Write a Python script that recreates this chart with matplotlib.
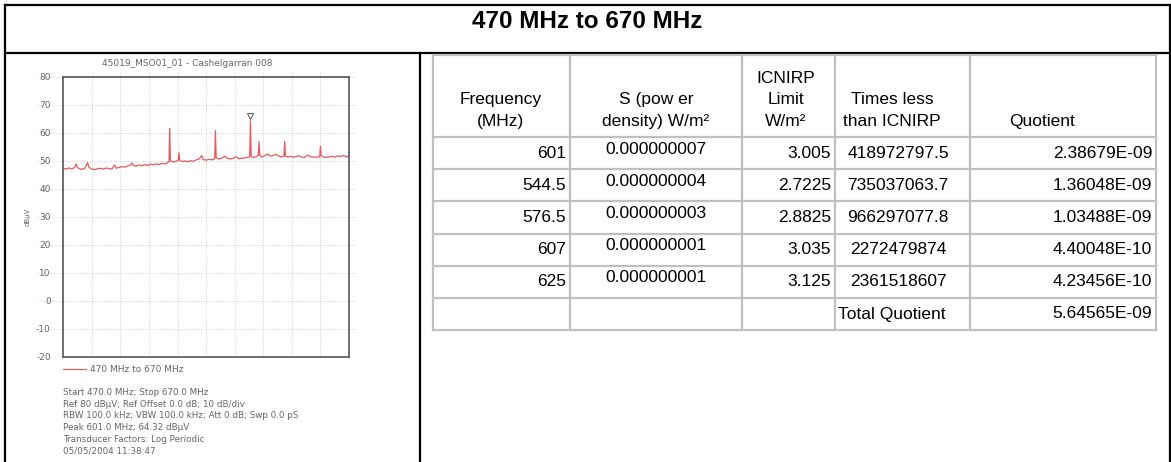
import matplotlib
matplotlib.use('Agg')
import matplotlib.pyplot as plt

plt.rcParams['axes.unicode_minus'] = False

# spectrum trace (MHz, dBuV)
trace_freq = [470, 472, 474, 476, 478, 479, 480, 481, 483, 485, 486, 487, 488, 490,
              492, 494, 496, 498, 500, 502, 504, 505, 506, 507, 509, 511, 513, 515,
              517, 518, 519, 521, 523, 525, 527, 529, 531, 533, 535, 537, 539, 541,
              543, 544, 544.5, 545, 547, 549, 550.5, 551, 551.5, 553, 555, 557, 559,
              561, 563, 565, 567, 568, 570, 572, 574, 576, 576.5, 577, 579, 581, 583,
              585, 587, 589, 591, 593, 595, 597, 599, 600.5, 601, 601.5, 603, 605,
              606.5, 607, 607.5, 609, 611, 613, 615, 617, 619, 621, 623, 624.5, 625,
              625.5, 627, 629, 631, 633, 635, 637, 639, 641, 643, 645, 647, 649.5,
              650, 650.5, 652, 654, 656, 658, 660, 662, 664, 666, 668, 670]
trace_level = [47.3, 47.0, 47.4, 47.1, 47.6, 48.8, 47.5, 47.2, 46.9, 47.3, 48.2, 49.3,
               47.6, 47.0, 46.8, 47.1, 47.3, 47.0, 47.4, 47.2, 47.0, 47.8, 48.4, 47.3,
               47.6, 47.9, 47.7, 48.1, 48.4, 49.2, 48.3, 48.0, 48.5, 48.2, 48.6, 48.3,
               48.8, 48.5, 48.9, 48.6, 49.1, 48.8, 49.3, 49.6, 61.6, 49.8, 49.5, 49.8,
               50.2, 52.8, 50.1, 49.7, 49.9, 49.6, 50.0, 49.8, 50.3, 50.6, 51.8, 50.4,
               50.2, 50.5, 50.3, 50.8, 60.7, 51.0, 50.6, 50.9, 51.6, 50.8, 50.6, 50.9,
               51.4, 50.7, 50.9, 51.0, 51.2, 51.5, 64.3, 51.6, 51.1, 51.4, 51.8, 56.8,
               51.9, 51.3, 51.8, 52.4, 51.6, 51.9, 52.3, 51.5, 51.4, 51.6, 56.9, 51.7,
               51.3, 51.6, 51.2, 51.5, 51.8, 51.3, 51.2, 52.1, 51.4, 51.3, 51.2, 51.5,
               55.2, 51.8, 51.4, 51.2, 51.3, 51.6, 51.2, 51.7, 51.5, 51.9, 51.4, 51.6]
peak_freq = 601.0
peak_level = 64.32

info_lines = [
    "Start 470.0 MHz; Stop 670.0 MHz",
    "Ref 80 dB\u03bcV; Ref Offset 0.0 dB; 10 dB/div",
    "RBW 100.0 kHz; VBW 100.0 kHz; Att 0 dB; Swp 0.0 pS",
    "Peak 601.0 MHz; 64.32 dB\u03bcV",
    "Transducer Factors: Log Periodic",
    "05/05/2004 11:38:47",
]

# table contents
headers = ["Frequency\n(MHz)", "S (pow er\ndensity) W/m\u00b2", "ICNIRP\nLimit\nW/m\u00b2",
           "Times less\nthan ICNIRP", "Quotient"]
freq_mhz = [601, 544.5, 576.5, 607, 625]
s_density = [7e-9, 4e-9, 3e-9, 1e-9, 1e-9]
icnirp_limit = [3.005, 2.7225, 2.8825, 3.035, 3.125]
times_less = [418972797.5, 735037063.7, 966297077.8, 2272479874, 2361518607]
quotient = [2.38679e-09, 1.36048e-09, 1.03488e-09, 4.40048e-10, 4.23456e-10]
total_quotient = 5.64565e-09

W, H = 1171, 462
fig = plt.figure(figsize=(W / 100, H / 100), dpi=100)
base = fig.add_axes([0, 0, 1, 1])
base.set_xlim(0, W)
base.set_ylim(H, 0)
base.axis('off')

tfont = 'Liberation Sans'

# outer frame
blk = dict(color='black', lw=1.6, solid_capstyle='projecting')
base.plot([5, 1169.5], [5, 5], **blk)
base.plot([5, 5], [5, H + 2], **blk)
base.plot([1169.5, 1169.5], [5, H + 2], **blk)
base.plot([5, 1169.5], [52.5, 52.5], **blk)
base.plot([420, 420], [52.5, H + 2], **blk)
base.text(587, 28.5, "470 MHz to 670 MHz", ha='center', va='baseline',
          fontsize=17.5, fontweight='bold', family=tfont)

# table grid
col_edges = [433, 570, 742, 835, 970, 1156]
row_edges = [54.5, 137, 169, 201, 234, 266, 298, 330]
grey = dict(color='#c0c0c0', lw=1.6, solid_capstyle='projecting')
for x in col_edges:
    base.plot([x, x], [row_edges[0], row_edges[-1]], **grey)
for y in row_edges:
    base.plot([col_edges[0], col_edges[-1]], [y, y], **grey)

hdr_x = [501, 656, 786, 892, 1042]
for x, txt in zip(hdr_x, headers):
    base.text(x, 129, txt, ha='center', va='bottom', fontsize=12.5,
              family=tfont, linespacing=1.55)

tk = dict(fontsize=12.5, family=tfont, va='center')
for i in range(len(freq_mhz)):
    yc = (row_edges[i + 1] + row_edges[i + 2]) / 2
    base.text(566, yc, f"{freq_mhz[i]:g}", ha='right', **tk)
    base.text(656, yc - 4, f"{s_density[i]:.9f}", ha='center', **tk)
    base.text(831, yc, f"{icnirp_limit[i]:g}", ha='right', **tk)
    base.text(898, yc, f"{times_less[i]:.10g}", ha='center', **tk)
    base.text(1152, yc, f"{quotient[i]:.5E}", ha='right', **tk)
yc = (row_edges[-2] + row_edges[-1]) / 2
base.text(838, yc, "Total Quotient", ha='left', **tk)
base.text(1152, yc, f"{total_quotient:.5E}", ha='right', **tk)

# analyser plot
gc = '#666666'
xticks = list(range(470, 671, 20))
yticks = list(range(-20, 81, 10))
ax = fig.add_axes([63.3 / W, 1 - 356.7 / H, 285.7 / W, 280 / H])
# analyser grid runs a little past the frame
gkw = dict(color='#d0d0d0', ls=(0, (1, 1.5)), lw=0.7, clip_on=False, zorder=0.5)
ax.hlines(yticks[1:], 452, 674, **gkw)
ax.vlines(xticks[1:-1], -20, 82.5, **gkw)
ax.plot(trace_freq, trace_level, color='#e8585a', lw=0.9)
ax.plot([peak_freq], [peak_level + 1.6], marker='v', ms=4, mfc='white',
        mec='#555555', mew=0.7, ls='none')
ax.set_xlim(470, 670)
ax.set_ylim(-20, 80)
ax.set_xticks(xticks)
ax.set_yticks(yticks)
ax.set_xticklabels([])
ax.tick_params(length=0, labelsize=6.5, labelcolor=gc, pad=9)
ax.patch.set_alpha(0)
for s in ax.spines.values():
    s.set_color('#555555')
    s.set_linewidth(1.2)
ax.set_ylabel("dB\u03bcV", fontsize=5, color=gc, labelpad=4)

base.text(187, 63, "45019_MSO01_01 - Cashelgarran 008", ha='center', va='center',
          fontsize=6.5, color=gc)
base.plot([63, 86], [369, 369], color='#e8585a', lw=0.8)
base.text(90, 369, "470 MHz to 670 MHz", ha='left', va='center', fontsize=6.5, color=gc)
for k, line in enumerate(info_lines):
    base.text(63, 392.5 + k * 11.7, line, ha='left', va='center', fontsize=6.3, color=gc)

fig.savefig('out.png', dpi=100)
